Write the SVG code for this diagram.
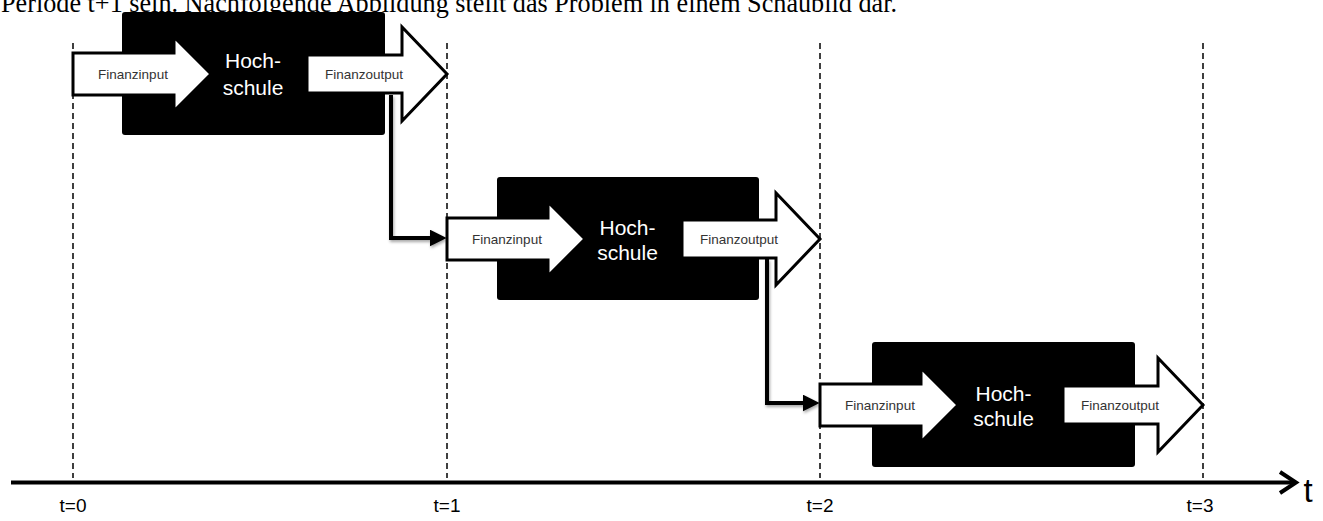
<svg xmlns="http://www.w3.org/2000/svg" width="1323" height="521" viewBox="0 0 1323 521">
  <style>
    .blk{fill:#000}
    .arr{fill:#fff;stroke:#000;stroke-width:3;stroke-linejoin:miter}
    .lbl{font-family:"Liberation Sans",Arial,sans-serif;font-size:13.5px;fill:#333;text-anchor:middle}
    .hs{font-family:"Liberation Sans",Arial,sans-serif;font-size:21px;fill:#fff;text-anchor:middle}
    .dash{stroke:#000;stroke-width:1.5;stroke-dasharray:6,4;fill:none}
    .tl{font-family:"Liberation Sans",Arial,sans-serif;font-size:19px;fill:#000;text-anchor:middle}
    .conn{fill:none;stroke:#000;stroke-width:4;stroke-linejoin:miter}
  </style>
  <defs>
    <filter id="sh" x="-20%" y="-20%" width="140%" height="140%">
      <feDropShadow dx="1" dy="2" stdDeviation="1.5" flood-color="#000" flood-opacity="0.35"/>
    </filter>
    <marker id="ah" viewBox="0 0 16 16" refX="6" refY="8" markerWidth="17" markerHeight="17" markerUnits="userSpaceOnUse" orient="auto">
      <path d="M0,0 L16,8 L0,16 z" fill="#000"/>
    </marker>
  </defs>

  <text x="1" y="12" font-family="'Liberation Serif','Times New Roman',serif" font-size="28" fill="#000" textLength="896" lengthAdjust="spacingAndGlyphs">Periode t+1 sein. Nachfolgende Abbildung stellt das Problem in einem Schaubild dar.</text>

  <g id="timelines">
    <line class="dash" x1="73" y1="43" x2="73" y2="478"/>
    <line class="dash" x1="447" y1="43" x2="447" y2="478"/>
    <line class="dash" x1="820" y1="43" x2="820" y2="478"/>
    <line class="dash" x1="1203" y1="43" x2="1203" y2="478"/>
  </g>

  <g id="axis">
    <line x1="11" y1="482.5" x2="1294" y2="482.5" stroke="#000" stroke-width="4"/>
    <path d="M1280,472 L1296,482.5 L1280,493" fill="none" stroke="#000" stroke-width="4" stroke-linejoin="miter"/>
    <text x="1308" y="502" font-family="'Liberation Sans',Arial,sans-serif" font-size="33" text-anchor="middle">t</text>
    <text class="tl" x="73" y="512">t=0</text>
    <text class="tl" x="447" y="512">t=1</text>
    <text class="tl" x="820" y="512">t=2</text>
    <text class="tl" x="1200" y="512">t=3</text>
  </g>

  <g id="block1">
    <rect class="blk" x="122" y="12" width="263" height="123" rx="3"/>
    <polygon class="arr" points="73,53 174,53 174,37 211,74 174,111 174,95 73,95"/>
    <polygon class="arr" points="307,55 402,55 402,27 447,74 402,121 402,93 307,93"/>
    <text class="lbl" x="133" y="79">Finanzinput</text>
    <text class="lbl" x="364" y="79">Finanzoutput</text>
    <text class="hs" x="253" y="68">Hoch-</text>
    <text class="hs" x="253" y="95">schule</text>
  </g>

  <g id="block2">
    <rect class="blk" x="497" y="177" width="262" height="123" rx="3"/>
    <polygon class="arr" points="447,218 548,218 548,202 585,239 548,276 548,260 447,260"/>
    <polygon class="arr" points="682,220 776,220 776,193 820,239 776,285 776,258 682,258"/>
    <text class="lbl" x="507" y="244">Finanzinput</text>
    <text class="lbl" x="739" y="244">Finanzoutput</text>
    <text class="hs" x="627.5" y="235">Hoch-</text>
    <text class="hs" x="627.5" y="260">schule</text>
  </g>

  <g id="block3">
    <rect class="blk" x="872" y="342" width="263" height="125" rx="3"/>
    <polygon class="arr" points="820,384 921,384 921,368 958,405 921,442 921,426 820,426"/>
    <polygon class="arr" points="1063,386 1158,386 1158,358 1203,405 1158,452 1158,424 1063,424"/>
    <text class="lbl" x="880" y="410">Finanzinput</text>
    <text class="lbl" x="1120" y="410">Finanzoutput</text>
    <text class="hs" x="1003.5" y="401">Hoch-</text>
    <text class="hs" x="1003.5" y="426">schule</text>
  </g>

  <g id="connectors" filter="url(#sh)">
    <path class="conn" d="M391,95 V238 H436" marker-end="url(#ah)"/>
    <path class="conn" d="M767,259 V403 H809" marker-end="url(#ah)"/>
  </g>
</svg>
